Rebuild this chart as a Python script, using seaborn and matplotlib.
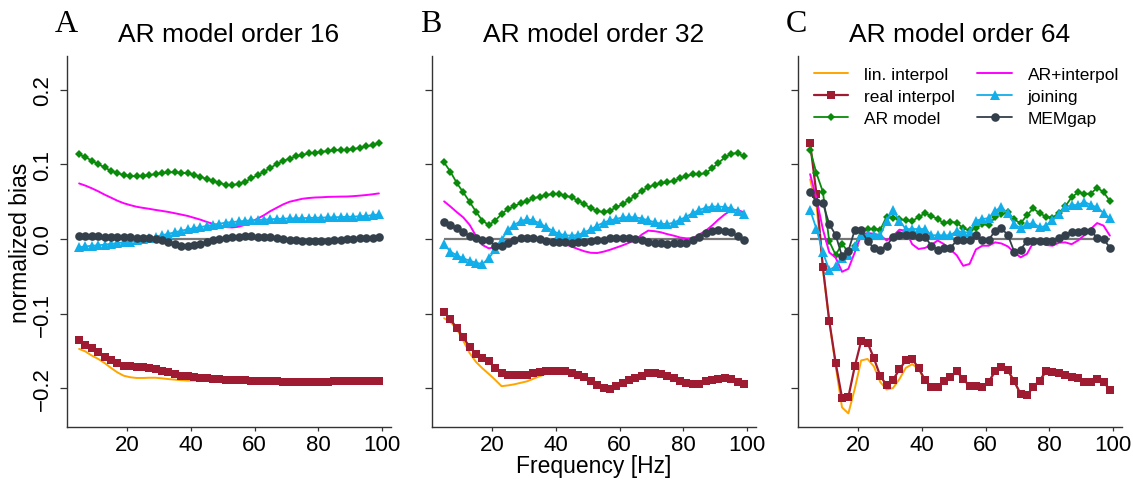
import numpy as np
import pandas as pd
import matplotlib
matplotlib.use("Agg")
import matplotlib.pyplot as plt
import seaborn as sns

# ---------------- data ----------------
freq = list(range(5, 100, 2))  # Hz, 48 frequencies

# Panel A: AR model order 16
lin16 = [-0.1475, -0.151, -0.1565, -0.161, -0.1665, -0.173, -0.179, -0.1835,
         -0.1855, -0.1865, -0.1865, -0.1862, -0.1862, -0.187, -0.188, -0.1887,
         -0.1895, -0.19, -0.19, -0.19, -0.19, -0.1895, -0.1893, -0.1893,
         -0.1895, -0.1897, -0.19, -0.1902, -0.1905, -0.1908, -0.191, -0.1912,
         -0.1915, -0.1918, -0.192, -0.192, -0.192, -0.192, -0.192, -0.1918,
         -0.1912, -0.191, -0.191, -0.1908, -0.1908, -0.1908, -0.1908, -0.1908]
real16 = [-0.1354, -0.1416, -0.1466, -0.152, -0.1577, -0.1626, -0.1667, -0.1698,
          -0.171, -0.172, -0.172, -0.1729, -0.1747, -0.1765, -0.179, -0.1814,
          -0.1832, -0.1845, -0.1854, -0.1863, -0.1868, -0.1877, -0.188, -0.1888,
          -0.1893, -0.1895, -0.1897, -0.19, -0.1905, -0.1908, -0.191, -0.1912,
          -0.1915, -0.1918, -0.192, -0.192, -0.192, -0.192, -0.192, -0.1918,
          -0.1912, -0.191, -0.191, -0.1908, -0.1908, -0.1908, -0.1908, -0.1908]
ar16 = [0.1135, 0.110, 0.105, 0.1006, 0.096, 0.0916, 0.0885, 0.0858,
        0.0845, 0.084, 0.0845, 0.0858, 0.087, 0.0885, 0.0894, 0.0894,
        0.089, 0.088, 0.0863, 0.0836, 0.0804, 0.0782, 0.075, 0.0728,
        0.0724, 0.0737, 0.0768, 0.0813, 0.0858, 0.0903, 0.0956, 0.1006,
        0.1046, 0.108, 0.1108, 0.113, 0.1148, 0.116, 0.117, 0.118,
        0.119, 0.1193, 0.1197, 0.1206, 0.1224, 0.1242, 0.126, 0.1287]
arint16 = [0.0746, 0.0716, 0.068, 0.064, 0.0595, 0.0555, 0.0514, 0.048,
           0.0455, 0.0433, 0.0418, 0.0405, 0.039, 0.0377, 0.0363, 0.0346,
           0.0328, 0.031, 0.0285, 0.026, 0.023, 0.0203, 0.018, 0.016,
           0.0155, 0.0165, 0.019, 0.023, 0.0275, 0.032, 0.0375, 0.042,
           0.0465, 0.050, 0.052, 0.054, 0.055, 0.0557, 0.056, 0.0565,
           0.0567, 0.0569, 0.057, 0.0575, 0.0582, 0.059, 0.060, 0.0612]
join16 = [-0.011, -0.010, -0.009, -0.0085, -0.0075, -0.0065, -0.0055, -0.0045,
          -0.0035, -0.002, -0.0005, 0.001, 0.003, 0.005, 0.007, 0.009,
          0.011, 0.013, 0.0145, 0.016, 0.0175, 0.019, 0.0205, 0.022,
          0.0228, 0.0236, 0.0244, 0.025, 0.0256, 0.026, 0.0265, 0.027,
          0.0273, 0.0276, 0.0279, 0.028, 0.0283, 0.0285, 0.0287, 0.029,
          0.0292, 0.0295, 0.0298, 0.030, 0.0305, 0.031, 0.032, 0.033]
mem16 = [0.004, 0.0042, 0.004, 0.0037, 0.0033, 0.003, 0.0027, 0.0024,
         0.0022, 0.002, 0.0015, 0.001, 0.0003, -0.001, -0.004, -0.007,
         -0.009, -0.0098, -0.0085, -0.0067, -0.004, -0.0015, 0.0005, 0.0015,
         0.0022, 0.003, 0.0035, 0.0036, 0.0033, 0.0028, 0.0022, 0.001,
         0.0, -0.001, -0.002, -0.0025, -0.003, -0.003, -0.003, -0.003,
         -0.002, -0.001, -0.0003, 0.0, 0.0008, 0.0015, 0.002, 0.0025]

# Panel B: AR model order 32
lin32 = [-0.1063, -0.1115, -0.121, -0.1365, -0.153, -0.165, -0.1735, -0.181,
         -0.189, -0.1975, -0.1965, -0.195, -0.193, -0.191, -0.1875, -0.184,
         -0.181, -0.178, -0.177, -0.1778, -0.1796, -0.1819, -0.1854, -0.19,
         -0.1957, -0.2, -0.201, -0.1975, -0.193, -0.1894, -0.1868, -0.1832,
         -0.1796, -0.1796, -0.1814, -0.184, -0.1868, -0.19, -0.193, -0.1948,
         -0.194, -0.1912, -0.1894, -0.1877, -0.1868, -0.1885, -0.1921, -0.1948]
real32 = [-0.0983, -0.108, -0.1197, -0.1318, -0.1452, -0.154, -0.16, -0.164,
          -0.1733, -0.1796, -0.1819, -0.1827, -0.1827, -0.1823, -0.1805, -0.1783,
          -0.1774, -0.177, -0.177, -0.1778, -0.1796, -0.1819, -0.1854, -0.19,
          -0.1957, -0.2, -0.201, -0.1975, -0.193, -0.1894, -0.1868, -0.1832,
          -0.1796, -0.1796, -0.1814, -0.184, -0.1868, -0.19, -0.193, -0.1948,
          -0.194, -0.1912, -0.1894, -0.1877, -0.1868, -0.1885, -0.1921, -0.1948]
ar32 = [0.1028, 0.0902, 0.075, 0.0626, 0.050, 0.0366, 0.0246, 0.0188,
        0.0246, 0.0335, 0.0402, 0.0438, 0.0483, 0.0505, 0.0545, 0.0567,
        0.059, 0.0603, 0.0603, 0.058, 0.0559, 0.0514, 0.0469, 0.0411,
        0.038, 0.0358, 0.038, 0.0425, 0.0469, 0.0527, 0.058, 0.0648,
        0.0693, 0.0728, 0.0746, 0.076, 0.0782, 0.0813, 0.0849, 0.0867,
        0.0867, 0.0885, 0.0947, 0.1019, 0.1095, 0.1144, 0.1153, 0.1108]
arint32 = [0.0505, 0.0435, 0.036, 0.029, 0.019, 0.004, -0.008, -0.0125,
           -0.011, -0.0054, -0.002, 0.0003, 0.001, 0.001, 0.0008, -0.0005,
           -0.0018, -0.003, -0.0048, -0.007, -0.0102, -0.0135, -0.0165, -0.0185,
           -0.0188, -0.017, -0.0145, -0.0115, -0.0085, -0.005, -0.0015, 0.006,
           0.0112, 0.0105, 0.009, 0.0065, 0.0045, 0.002, 0.0008, 0.001,
           0.006, 0.011, 0.018, 0.026, 0.033, 0.0385, 0.039, 0.0358]
join32 = [-0.007, -0.017, -0.022, -0.026, -0.029, -0.032, -0.0335, -0.026,
          -0.014, -0.001, 0.012, 0.019, 0.024, 0.0265, 0.025, 0.021,
          0.016, 0.011, 0.007, 0.005, 0.0045, 0.0055, 0.009, 0.013,
          0.018, 0.022, 0.025, 0.027, 0.029, 0.0295, 0.029, 0.0275,
          0.025, 0.0225, 0.0205, 0.020, 0.022, 0.026, 0.030, 0.035,
          0.039, 0.042, 0.0435, 0.0435, 0.043, 0.041, 0.038, 0.034]
mem32 = [0.0224, 0.0188, 0.0147, 0.0098, 0.0036, 0.001, -0.001, -0.002,
         -0.009, -0.0098, -0.0054, -0.001, 0.001, 0.0018, 0.001, -0.0005,
         -0.0022, -0.0036, -0.0045, -0.0045, -0.0047, -0.0045, -0.0036, -0.003,
         -0.002, -0.001, 0.001, 0.0018, 0.0018, 0.001, 0.0, -0.002,
         -0.0036, -0.0054, -0.006, -0.0063, -0.006, -0.0058, -0.0054, -0.002,
         0.0022, 0.008, 0.0112, 0.012, 0.0112, 0.009, 0.0036, -0.0013]

# Panel C: AR model order 64
lin64 = [0.08, 0.045, -0.04, -0.11, -0.17, -0.226, -0.234, -0.201,
         -0.163, -0.161, -0.171, -0.192, -0.202, -0.200, -0.188, -0.173,
         -0.168, -0.174, -0.19, -0.199, -0.199, -0.191, -0.186, -0.178,
         -0.189, -0.197, -0.197, -0.199, -0.192, -0.179, -0.173, -0.177,
         -0.191, -0.208, -0.210, -0.198, -0.190, -0.179, -0.179, -0.180,
         -0.182, -0.185, -0.187, -0.192, -0.192, -0.189, -0.192, -0.202]
real64 = [0.1287, 0.060, -0.0375, -0.110, -0.166, -0.213, -0.212, -0.171,
          -0.137, -0.139, -0.160, -0.184, -0.196, -0.189, -0.175, -0.163,
          -0.161, -0.173, -0.189, -0.199, -0.199, -0.191, -0.185, -0.177,
          -0.188, -0.197, -0.197, -0.199, -0.192, -0.177, -0.172, -0.176,
          -0.191, -0.208, -0.210, -0.198, -0.190, -0.177, -0.178, -0.180,
          -0.182, -0.185, -0.187, -0.192, -0.192, -0.188, -0.192, -0.202]
ar64 = [0.1198, 0.088, 0.0634, -0.003, -0.0214, -0.0067, -0.0174, -0.0098,
        0.0107, 0.0134, 0.0134, 0.0125, 0.030, 0.0286, 0.0268, 0.025,
        0.024, 0.0295, 0.0344, 0.031, 0.027, 0.021, 0.023, 0.022,
        0.0143, 0.0116, 0.015, 0.020, 0.0188, 0.029, 0.0335, 0.0357,
        0.0264, 0.021, 0.032, 0.041, 0.0344, 0.030, 0.0286, 0.035,
        0.0438, 0.0559, 0.0626, 0.0608, 0.0608, 0.0688, 0.063, 0.051]
arint64 = [0.087, 0.054, 0.013, -0.018, -0.025, -0.044, -0.040, -0.018,
           0.005, 0.008, 0.007, 0.005, -0.002, 0.004, 0.0125, 0.011,
           -0.007, -0.0134, -0.012, -0.008, -0.002, -0.007, -0.014, -0.022,
           -0.036, -0.0335, -0.014, -0.009, -0.009, -0.0045, -0.006, -0.01,
           -0.018, -0.0246, -0.020, -0.0045, -0.005, -0.008, -0.009, -0.005,
           -0.0045, -0.007, -0.002, 0.005, 0.0134, 0.0214, 0.018, 0.0045]
join64 = [0.0389, 0.0134, -0.0179, -0.0416, -0.0367, -0.026, -0.0215, -0.009,
          0.0054, 0.0054, 0.0054, 0.005, 0.0246, 0.039, 0.0246, 0.0134,
          0.0134, 0.0134, 0.0134, 0.005, 0.005, 0.005, 0.005, 0.011,
          0.009, 0.009, 0.0246, 0.0268, 0.028, 0.038, 0.0425, 0.0344,
          0.020, 0.0147, 0.0196, 0.0214, 0.0156, 0.0178, 0.026, 0.033,
          0.0425, 0.0456, 0.0456, 0.05, 0.0456, 0.0425, 0.0349, 0.0277]
mem64 = [0.0626, 0.05, 0.048, 0.020, 0.0054, -0.023, -0.0156, 0.012,
         0.012, -0.0027, -0.0125, -0.0143, -0.009, 0.003, 0.0054, 0.0054,
         0.0054, 0.003, 0.003, -0.009, -0.0143, -0.0116, -0.012, -0.0018,
         -0.0018, -0.002, 0.0054, -0.002, -0.001, 0.0107, 0.0143, 0.0054,
         -0.017, -0.0143, -0.0027, -0.003, -0.0031, -0.003, -0.0025, 0.002,
         0.006, 0.009, 0.009, 0.0107, 0.011, 0.0018, 0.0, -0.0116]

series_names = ["lin. interpol", "real interpol", "AR model",
                "AR+interpol", "joining", "MEMgap"]
panel_titles = ["AR model order 16", "AR model order 32", "AR model order 64"]
panel_letters = ["A", "B", "C"]
panel_data = [
    [lin16, real16, ar16, arint16, join16, mem16],
    [lin32, real32, ar32, arint32, join32, mem32],
    [lin64, real64, ar64, arint64, join64, mem64],
]
ytick_vals = [-0.2, -0.1, 0.0, 0.1, 0.2]
ytick_labels = ["\u22120.2", "\u22120.1", "0.0", "0.1", "0.2"]
xtick_vals = [20, 40, 60, 80, 100]

# ---------------- styling ----------------
sns.set_theme(style="ticks")
plt.rcParams["font.family"] = ["Liberation Sans", "DejaVu Sans"]
plt.rcParams["text.color"] = "black"
plt.rcParams["axes.labelcolor"] = "black"
plt.rcParams["xtick.color"] = "black"
plt.rcParams["ytick.color"] = "black"

styles = {
    "lin. interpol": dict(color="#FFA500", marker=None, lw=1.4),
    "real interpol": dict(color="#9E1B32", marker="s", ms=6.2, lw=1.6),
    "AR model": dict(color="#0A8A0A", marker="D", ms=3.8, lw=1.3),
    "AR+interpol": dict(color="#FF00FF", marker=None, lw=1.4),
    "joining": dict(color="#12AEEA", marker="^", ms=7.0, lw=1.3),
    "MEMgap": dict(color="#333F4A", marker="o", ms=6.2, lw=1.3),
}

W, H = 1133, 481
fig = plt.figure(figsize=(W / 100, H / 100), dpi=100)
lefts_px = [67, 432, 798]
ax_w_px = 324
top_px, bot_px = 57, 428

axes = []
for i in range(3):
    ax = fig.add_axes([lefts_px[i] / W, 1 - bot_px / H, ax_w_px / W, (bot_px - top_px) / H])
    axes.append(ax)
    ax.hlines(0, freq[0], freq[-1], color="#777777", lw=1.6, zorder=1)
    for name, vals in zip(series_names, panel_data[i]):
        st = styles[name]
        kw = dict(color=st["color"], linewidth=st["lw"], ax=ax, zorder=2)
        if st["marker"] is not None:
            kw.update(marker=st["marker"], markersize=st["ms"], markeredgewidth=0)
        if i == 2:
            kw["label"] = name
        sns.lineplot(x=freq, y=vals, **kw)
    ax.set_xlim(1.2, 102.8)
    ax.set_ylim(-0.2523, 0.2456)
    ax.set_xticks(xtick_vals)
    ax.set_yticks(ytick_vals)
    sns.despine(ax=ax)
    for sp in ["left", "bottom"]:
        ax.spines[sp].set_color("#333333")
        ax.spines[sp].set_linewidth(1.0)
    ax.tick_params(axis="x", labelsize=16, length=3, width=0.9, color="#333333",
                   labelcolor="black", pad=2)
    ax.tick_params(axis="y", labelsize=16, length=5, width=0.9, color="#333333",
                   labelcolor="black", labelrotation=90, pad=5)
    if i == 0:
        ax.set_yticklabels(ytick_labels, va="center")
        ax.set_ylabel("normalized bias", fontsize=16.5, labelpad=0, color="black")
    else:
        ax.tick_params(axis="y", labelleft=False)
        ax.set_ylabel("")
    if i == 1:
        ax.set_xlabel("Frequency [Hz]", fontsize=16.5, labelpad=-1, color="black")
    else:
        ax.set_xlabel("")
    ax.set_title(panel_titles[i], fontsize=19, pad=11, color="black")
    fig.text((lefts_px[i] - 12) / W, 1 - 32 / H, panel_letters[i],
             family=["Liberation Serif", "DejaVu Serif"], fontsize=23,
             ha="left", va="baseline", color="black")
    leg = ax.get_legend()
    if leg is not None:
        leg.remove()

handles, labels = axes[2].get_legend_handles_labels()
axes[2].legend(handles, labels, ncol=2, frameon=False, loc="upper left",
               bbox_to_anchor=(0.027, 0.99), borderaxespad=0.0, fontsize=12.5,
               handlelength=2.0, handletextpad=0.9, columnspacing=1.3,
               labelspacing=0.4, numpoints=1, labelcolor="black")

fig.savefig("out.png", dpi=100)
